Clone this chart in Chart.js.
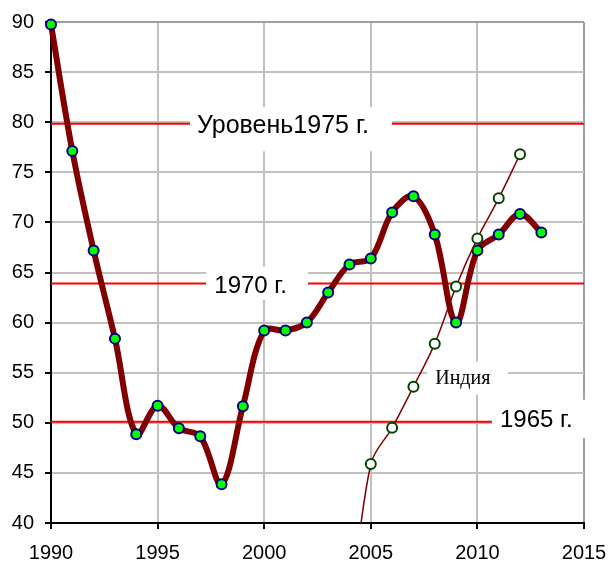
<!DOCTYPE html>
<html>
<head>
<meta charset="utf-8">
<script src="https://cdn.jsdelivr.net/npm/chart.js@4/dist/chart.umd.min.js"></script>
<style>
html,body{margin:0;padding:0;background:#fff;}
#wrap{width:611px;height:566px;}
</style>
</head>
<body>
<div id="wrap"><canvas id="c" width="611" height="566"></canvas></div>
<script>
// ---- data ----
const russiaYears = [1990,1991,1992,1993,1994,1995,1996,1997,1998,1999,2000,2001,2002,2003,2004,2005,2006,2007,2008,2009,2010,2011,2012,2013];
const russiaValues = [89.74,77.13,67.2,58.4,48.85,51.7,49.45,48.65,43.86,51.65,59.2,59.2,60.0,63.0,65.8,66.4,71.0,72.6,68.8,60.0,67.2,68.8,70.84,69.0];
const indiaYears = [2004,2005,2006,2007,2008,2009,2010,2011,2012];
const indiaValues = [30,45.89,49.5,53.6,57.9,63.6,68.4,72.4,76.8];
const levelValues = [79.85,63.9,50.1];
const levelLabels = ['Уровень1975 г.','1970 г.','1965 г.'];
const indiaLabel = 'Индия';
const xTicks = [1990,1995,2000,2005,2010,2015];
const yTicks = [40,45,50,55,60,65,70,75,80,85,90];

const toXY = (xs, ys) => xs.map((x,i)=>({x:x, y:ys[i]}));

const annot = {
  id:'annot',
  beforeDatasetsDraw(chart){
    const {ctx, chartArea:a, scales:{x,y}} = chart;
    ctx.save();
    ctx.strokeStyle = '#ff0000';
    ctx.lineWidth = 2;
    levelValues.forEach(v=>{
      const py = y.getPixelForValue(v);
      ctx.beginPath(); ctx.moveTo(a.left, py); ctx.lineTo(a.right, py); ctx.stroke();
    });
    const boxes = [
      {t:levelLabels[0], x1:1996.52, x2:2005.99, y1:81.5, y2:77.1, tx:1996.85, ty:78.97, f:'25px "Liberation Sans", Arial, sans-serif'},
      {t:levelLabels[1], x1:1997.27, x2:2002.05, y1:65.6, y2:62.3, tx:1997.66, ty:62.97, f:'24px "Liberation Sans", Arial, sans-serif'},
      {t:levelLabels[2], x1:2010.68, x2:2015.35, y1:52.3, y2:48.5, tx:2011.06, ty:49.63, f:'24px "Liberation Sans", Arial, sans-serif'},
      {t:indiaLabel, x1:2007.64, x2:2011.44, y1:56.1, y2:52.8, tx:2008.02, ty:53.9, f:'20px "Liberation Serif", "Times New Roman", serif'}
    ];
    boxes.forEach(b=>{
      const l = x.getPixelForValue(b.x1), r = x.getPixelForValue(b.x2);
      const t = y.getPixelForValue(b.y1), bt = y.getPixelForValue(b.y2);
      ctx.fillStyle = '#ffffff';
      ctx.fillRect(l, t, r-l, bt-t);
      ctx.fillStyle = '#000000';
      ctx.font = b.f;
      ctx.textAlign = 'left';
      ctx.textBaseline = 'alphabetic';
      ctx.fillText(b.t, x.getPixelForValue(b.tx), y.getPixelForValue(b.ty));
    });
    ctx.restore();
  }
};

const gridColX = c => (c.tick && c.tick.value === 2015) ? '#a0a0a0' : '#c0c0c0';
const gridColY = c => (c.tick && c.tick.value === 90) ? '#a0a0a0' : '#c0c0c0';

new Chart(document.getElementById('c'), {
  type:'line',
  data:{
    datasets:[
      {
        label:'Индия',
        data: toXY(indiaYears, indiaValues),
        borderColor:'#800000',
        borderWidth:1.5,
        pointRadius:5,
        pointBorderWidth:2,
        pointBackgroundColor:'#ffffff',
        pointBorderColor:'#004400',
        tension:0.35,
        order:0,
        clip:0
      },
      {
        label:'Россия',
        data: toXY(russiaYears, russiaValues),
        borderColor:'#800000',
        borderWidth:6,
        pointRadius:5,
        pointBorderWidth:2,
        pointBackgroundColor:'#00ff00',
        pointBorderColor:'#000080',
        tension:0.35,
        order:1,
        clip:false
      }
    ]
  },
  options:{
    responsive:false,
    animation:false,
    events:[],
    layout:{padding:{left:0, top:22, right:27, bottom:0}},
    plugins:{legend:{display:false}, tooltip:{enabled:false}},
    scales:{
      x:{
        type:'linear', min:1990, max:2015,
        afterBuildTicks(s){ s.ticks = xTicks.map(v=>({value:v})); },
        afterFit(s){ s.height = 43; s.paddingLeft = 0; s.paddingRight = 0; },
        grid:{color:gridColX, lineWidth:2, tickColor:'#000', tickLength:6, tickWidth:2},
        border:{color:'#000', width:2},
        ticks:{color:'#000', padding:12, font:{family:'"Liberation Sans", Arial, sans-serif', size:20}, maxRotation:0, autoSkip:false, callback:v=>String(v)}
      },
      y:{
        type:'linear', min:40, max:90,
        afterBuildTicks(s){ s.ticks = yTicks.map(v=>({value:v})); },
        afterFit(s){ s.width = 51; s.paddingTop = 0; s.paddingBottom = 0; },
        grid:{color:gridColY, lineWidth:2, tickColor:'#000', tickLength:6, tickWidth:2},
        border:{color:'#000', width:2},
        ticks:{color:'#000', padding:11, font:{family:'"Liberation Sans", Arial, sans-serif', size:20}, callback:v=>String(v)}
      }
    }
  },
  plugins:[annot]
});
</script>
</body>
</html>
